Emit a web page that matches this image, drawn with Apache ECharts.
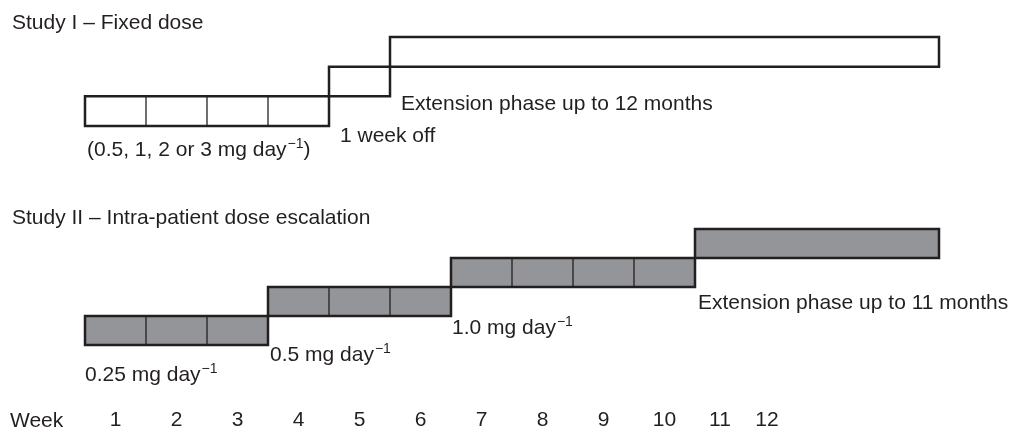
<!DOCTYPE html>
<html>
<head>
<meta charset="utf-8">
<script src="https://cdn.jsdelivr.net/npm/echarts@6/dist/echarts.min.js"></script>
<style>
  html, body { margin: 0; padding: 0; background: #fff; }
  #main { width: 1016px; height: 431px; }
</style>
</head>
<body>
<div id="main"></div>
<script>
// boxes: [startWeek, endWeek, level, number of cells]
var study1Boxes = [
  [0, 4, 0, 4],    // fixed dose, 4 weeks
  [4, 5, 1, 1],    // 1 week off
  [5, 14, 2, 1]    // extension phase
];
var study2Boxes = [
  [0, 3, 0, 3],    // 0.25 mg
  [3, 6, 1, 3],    // 0.5 mg
  [6, 10, 2, 4],   // 1.0 mg
  [10, 14, 3, 1]   // extension phase
];
var weekLabels = ['1', '2', '3', '4', '5', '6', '7', '8', '9', '10', '11', '12'];
var weekTickPos = [0.5, 1.5, 2.5, 3.5, 4.5, 5.5, 6.5, 7.5, 8.5, 9.5, 10.41, 11.18];

var ink = '#231f20';
var font = '"Liberation Sans", Arial, Helvetica, sans-serif';
var fs = 21;

function boxRenderer(fill) {
  return function (params, api) {
    var x0 = api.value(0), x1 = api.value(1), lvl = api.value(2), n = api.value(3);
    var p0 = api.coord([x0, lvl]);
    var p1 = api.coord([x1, lvl + 1]);
    var kids = [{
      type: 'rect',
      shape: { x: p0[0], y: p1[1], width: p1[0] - p0[0], height: p0[1] - p1[1] },
      style: { fill: fill, stroke: ink, lineWidth: 2.5 }
    }];
    for (var i = 1; i < n; i++) {
      var xi = api.coord([x0 + (x1 - x0) * i / n, lvl])[0];
      kids.push({
        type: 'line',
        shape: { x1: xi, y1: p1[1], x2: xi, y2: p0[1] },
        style: { stroke: ink, lineWidth: 1.3 }
      });
    }
    return { type: 'group', children: kids };
  };
}

function txt(x, y, text, rich) {
  return {
    type: 'text', x: x, y: y, silent: true,
    style: {
      text: text, fill: ink, font: fs + 'px ' + font,
      verticalAlign: 'middle', align: 'left',
      rich: rich
    }
  };
}
var supRich = {
  a: { fontSize: fs, fontFamily: font, color: ink, lineHeight: 25 },
  s: { fontSize: 14, fontFamily: font, color: ink, verticalAlign: 'top', lineHeight: 25, padding: [0, 0, 0, 1] }
};

var hiddenAxis = {
  type: 'value', min: 0,
  axisLine: { show: false }, axisTick: { show: false },
  splitLine: { show: false }, axisLabel: { show: false }
};

var chart = echarts.init(document.getElementById('main'));
chart.setOption({
  animation: false,
  grid: [
    { left: 85, right: 77, top: 37, height: 89 },
    { left: 85, right: 77, top: 229, height: 117 }
  ],
  xAxis: [
    Object.assign({}, hiddenAxis, { gridIndex: 0, max: 14 }),
    Object.assign({}, hiddenAxis, {
      gridIndex: 1, max: 14,
      axisLabel: {
        show: true, customValues: weekTickPos, margin: 65,
        color: ink, fontSize: fs, fontFamily: font, hideOverlap: false,
        formatter: function (v) {
          for (var i = 0; i < weekTickPos.length; i++) {
            if (Math.abs(weekTickPos[i] - v) < 1e-6) return weekLabels[i];
          }
          return '';
        }
      }
    })
  ],
  yAxis: [
    Object.assign({}, hiddenAxis, { gridIndex: 0, max: 3 }),
    Object.assign({}, hiddenAxis, { gridIndex: 1, max: 4 })
  ],
  series: [
    {
      type: 'custom', xAxisIndex: 0, yAxisIndex: 0,
      renderItem: boxRenderer('none'),
      encode: { x: [0, 1], y: 2 },
      data: study1Boxes
    },
    {
      type: 'custom', xAxisIndex: 1, yAxisIndex: 1,
      renderItem: boxRenderer('#939598'),
      encode: { x: [0, 1], y: 2 },
      data: study2Boxes
    }
  ],
  graphic: [
    txt(12, 23, 'Study I \u2013 Fixed dose'),
    txt(401, 104, 'Extension phase up to 12 months'),
    txt(340, 136, '1 week off'),
    txt(87, 150, '{a|(0.5, 1, 2 or 3 mg day}{s|\u22121}{a|)}', supRich),
    txt(12, 218, 'Study II \u2013 Intra-patient dose escalation'),
    txt(85, 375, '{a|0.25 mg day}{s|\u22121}', supRich),
    txt(270, 355, '{a|0.5 mg day}{s|\u22121}', supRich),
    txt(452, 328, '{a|1.0 mg day}{s|\u22121}', supRich),
    txt(698, 303, 'Extension phase up to 11 months'),
    txt(10, 421, 'Week')
  ]
});
</script>
</body>
</html>
